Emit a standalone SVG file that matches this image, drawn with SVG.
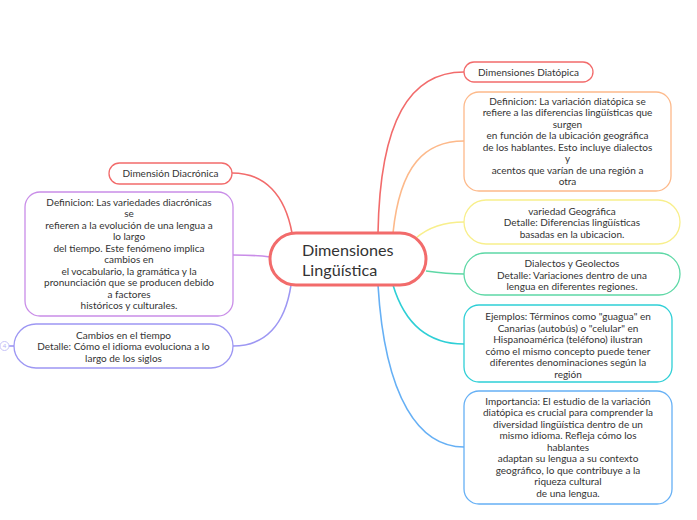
<svg xmlns="http://www.w3.org/2000/svg" width="697" height="520" viewBox="0 0 697 520">
<style>
text{font-family:"Lato","Noto Sans","Liberation Sans",sans-serif;fill:#333;}
.t{font-size:10px;text-anchor:middle;}
.c{font-size:16.2px;}
.n{fill:#fff;stroke-width:1.3;}
.l{fill:none;stroke-width:1.6;}
</style>
<rect width="697" height="520" fill="#fff"/>
<g id="connectors">
<path class="l" stroke="#f26b6b" d="M378,233 C380,120 410,72 464,72"/>
<path class="l" stroke="#fdb98a" d="M393,233 C400,165 425,141 464,141"/>
<path class="l" stroke="#f8ef8c" d="M416,238 C430,226 445,222 464,222"/>
<path class="l" stroke="#5ed8a6" d="M426,271 C440,273 450,274 464,274"/>
<path class="l" stroke="#2ecfd6" d="M393,285 C405,325 430,344 464,344"/>
<path class="l" stroke="#66b0f5" d="M378,285 C385,400 420,447 464,447"/>
<path class="l" stroke="#f26b6b" d="M292,233 C285,195 265,173 232,173"/>
<path class="l" stroke="#c98de8" d="M270,257 C255,255 245,255 233,255"/>
<path class="l" stroke="#9d97f3" d="M291,285 C285,325 265,346 233,346"/>
<path class="l" stroke="#9d97f3" d="M9,346 L14,346"/>
</g>
<g id="center">
<rect x="270" y="233" width="156" height="52" rx="26" fill="#fff" stroke="#f26b6b" stroke-width="3"/>
<text class="c" x="302" y="256">Dimensiones</text>
<text class="c" x="302" y="276">Lingüística</text>
</g>
<g id="diatopica">
<rect class="n" x="464" y="62" width="129" height="20" rx="10" stroke="#f26b6b"/>
<text class="t" x="528.5" y="75.5">Dimensiones Diatópica</text>
</g>
<g id="def-diatopica">
<rect class="n" x="464" y="92" width="207" height="99" rx="15" stroke="#fdb98a"/>
<text class="t" x="567.5" y="104.5">Definicion: La variación diatópica se</text>
<text class="t" x="567.5" y="116">refiere a las diferencias lingüísticas que</text>
<text class="t" x="567.5" y="127.5">surgen</text>
<text class="t" x="567.5" y="139">en función de la ubicación geográfica</text>
<text class="t" x="567.5" y="150.5">de los hablantes. Esto incluye dialectos</text>
<text class="t" x="567.5" y="162">y</text>
<text class="t" x="567.5" y="173.5">acentos que varían de una región a</text>
<text class="t" x="567.5" y="185">otra</text>
</g>
<g id="variedad">
<rect class="n" x="464" y="200" width="216" height="44" rx="22" stroke="#f8ef8c"/>
<text class="t" x="572" y="214.5">variedad Geográfica</text>
<text class="t" x="572" y="226">Detalle: Diferencias lingüísticas</text>
<text class="t" x="572" y="237.5">basadas en la ubicacion.</text>
</g>
<g id="dialectos">
<rect class="n" x="464" y="253" width="216" height="42" rx="21" stroke="#5ed8a6"/>
<text class="t" x="572" y="267">Dialectos y Geolectos</text>
<text class="t" x="572" y="278.5">Detalle: Variaciones dentro de una</text>
<text class="t" x="572" y="290">lengua en diferentes regiones.</text>
</g>
<g id="ejemplos">
<rect class="n" x="464" y="305" width="208" height="77" rx="15" stroke="#2ecfd6"/>
<text class="t" x="568" y="320">Ejemplos: Términos como "guagua" en</text>
<text class="t" x="568" y="331.5">Canarias (autobús) o "celular" en</text>
<text class="t" x="568" y="343">Hispanoamérica (teléfono) ilustran</text>
<text class="t" x="568" y="354.5">cómo el mismo concepto puede tener</text>
<text class="t" x="568" y="366">diferentes denominaciones según la</text>
<text class="t" x="568" y="377.5">región</text>
</g>
<g id="importancia">
<rect class="n" x="464" y="391" width="208" height="113" rx="15" stroke="#66b0f5"/>
<text class="t" x="568" y="404.5">Importancia: El estudio de la variación</text>
<text class="t" x="568" y="416">diatópica es crucial para comprender la</text>
<text class="t" x="568" y="427.5">diversidad lingüística dentro de un</text>
<text class="t" x="568" y="439">mismo idioma. Refleja cómo los</text>
<text class="t" x="568" y="450.5">hablantes</text>
<text class="t" x="568" y="462">adaptan su lengua a su contexto</text>
<text class="t" x="568" y="473.5">geográfico, lo que contribuye a la</text>
<text class="t" x="568" y="485">riqueza cultural</text>
<text class="t" x="568" y="496.5">de una lengua.</text>
</g>
<g id="diacronica">
<rect class="n" x="109" y="163" width="123" height="21" rx="10.5" stroke="#f26b6b"/>
<text class="t" x="170.5" y="176.5">Dimensión Diacrónica</text>
</g>
<g id="def-diacronica">
<rect class="n" x="25" y="192" width="208" height="124" rx="15" stroke="#c98de8"/>
<text class="t" x="129" y="205.5">Definicion: Las variedades diacrónicas</text>
<text class="t" x="129" y="217">se</text>
<text class="t" x="129" y="228.5">refieren a la evolución de una lengua a</text>
<text class="t" x="129" y="240">lo largo</text>
<text class="t" x="129" y="251.5">del tiempo. Este fenómeno implica</text>
<text class="t" x="129" y="263">cambios en</text>
<text class="t" x="129" y="274.5">el vocabulario, la gramática y la</text>
<text class="t" x="129" y="286">pronunciación que se producen debido</text>
<text class="t" x="129" y="297.5">a factores</text>
<text class="t" x="129" y="309">históricos y culturales.</text>
</g>
<g id="cambios">
<rect class="n" x="14" y="324" width="219" height="44" rx="22" stroke="#9d97f3"/>
<text class="t" x="123.5" y="338.5">Cambios en el tiempo</text>
<text class="t" x="123.5" y="350">Detalle: Cómo el idioma evoluciona a lo</text>
<text class="t" x="123.5" y="361.5">largo de los siglos</text>
</g>
<g id="collapsed">
<circle cx="4.5" cy="346" r="4.5" fill="#fff" stroke="#c7c3f8" stroke-width="1"/>
<text x="4.5" y="348.2" style="font-size:6px;text-anchor:middle;fill:#b8b3f5">4</text>
</g>
</svg>
